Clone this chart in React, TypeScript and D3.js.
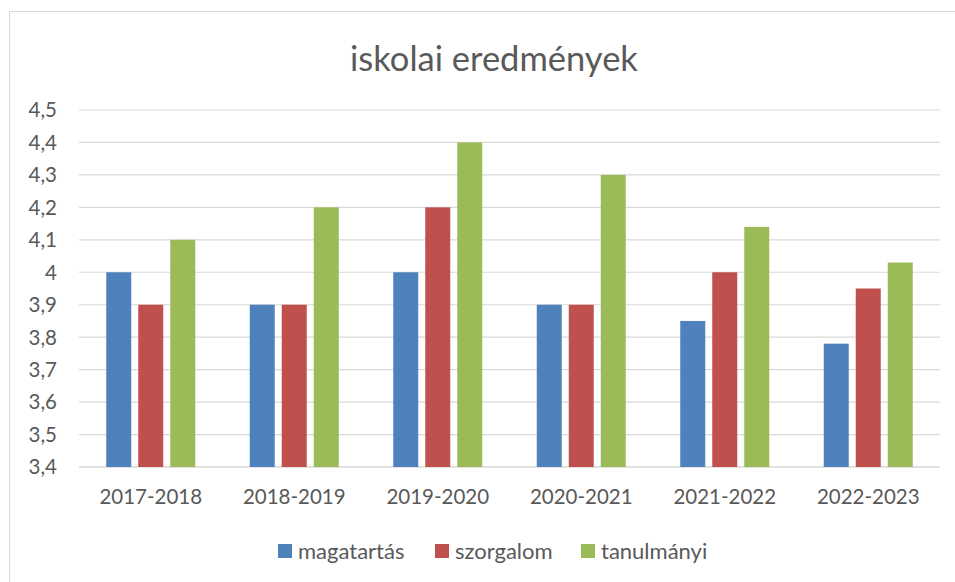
import React from 'react';
import * as d3 from 'd3';

const categories = ['2017-2018', '2018-2019', '2019-2020', '2020-2021', '2021-2022', '2022-2023'];
const seriesNames = ['magatartás', 'szorgalom', 'tanulmányi'];
const seriesColors = ['#4f81bd', '#c0504d', '#9bbb59'];
const magatartas = [4.0, 3.9, 4.0, 3.9, 3.85, 3.78];
const szorgalom = [3.9, 3.9, 4.2, 3.9, 4.0, 3.95];
const tanulmanyi = [4.1, 4.2, 4.4, 4.3, 4.14, 4.03];
const yTicks = [3.4, 3.5, 3.6, 3.7, 3.8, 3.9, 4.0, 4.1, 4.2, 4.3, 4.4, 4.5];

const seriesValues = [magatartas, szorgalom, tanulmanyi];

const W = 955;
const H = 582;
const FONT = 'Lato, "Noto Sans", sans-serif';
const TEXT = '#595959';

export default function App() {
  const plot = { left: 79, right: 940, top: 110, bottom: 467 };

  const x = d3.scaleBand<string>()
    .domain(categories)
    .range([plot.left, plot.right])
    .paddingInner(0)
    .paddingOuter(0);

  const y = d3.scaleLinear()
    .domain([3.4, 4.5])
    .range([plot.bottom, plot.top]);

  const barW = 25;
  const barGap = 7;
  const groupW = barW * 3 + barGap * 2;

  const fmt = (v: number) => (Math.round(v * 10) / 10).toString().replace('.', ',');

  // legend positions (swatch left, text left)
  const legendItems = [
    { swatch: 278, text: 298 },
    { swatch: 435, text: 455 },
    { swatch: 581, text: 601 },
  ];

  return (
    <svg width={W} height={H} style={{ position: 'absolute', left: 0, top: 0, background: '#fff' }}>
      <rect x={9.5} y={11.5} width={W + 20} height={H + 20} fill="#fff" stroke="#d9d9d9" strokeWidth={1} />

      <text x={494} y={71} textAnchor="middle" fontFamily={FONT} fontSize={34.5} fill={TEXT}>
        iskolai eredmények
      </text>

      {yTicks.map((t) => (
        <g key={t}>
          <line x1={plot.left} x2={plot.right} y1={y(t)} y2={y(t)} stroke="#d9d9d9" strokeWidth={t === 3.4 ? 1.5 : 1.2} />
          <text x={57} y={y(t)} dy="0.36em" textAnchor="end" fontFamily={FONT} fontSize={20.5} fill={TEXT}>
            {fmt(t)}
          </text>
        </g>
      ))}

      {categories.map((c, ci) => {
        const cx = (x(c) as number) + x.bandwidth() / 2;
        const start = cx - groupW / 2;
        return (
          <g key={c}>
            {seriesValues.map((vals, si) => (
              <rect
                key={si}
                x={start + si * (barW + barGap)}
                y={y(vals[ci])}
                width={barW}
                height={y(3.4) - y(vals[ci])}
                fill={seriesColors[si]}
              />
            ))}
            <text x={cx} y={497} dy="0.36em" textAnchor="middle" fontFamily={FONT} fontSize={20.5} fill={TEXT}>
              {c}
            </text>
          </g>
        );
      })}

      {seriesNames.map((name, i) => (
        <g key={name}>
          <rect x={legendItems[i].swatch} y={544} width={14} height={14} fill={seriesColors[i]} />
          <text x={legendItems[i].text} y={551} dy="0.36em" fontFamily={FONT} fontSize={22} fill={TEXT}>
            {name}
          </text>
        </g>
      ))}
    </svg>
  );
}
